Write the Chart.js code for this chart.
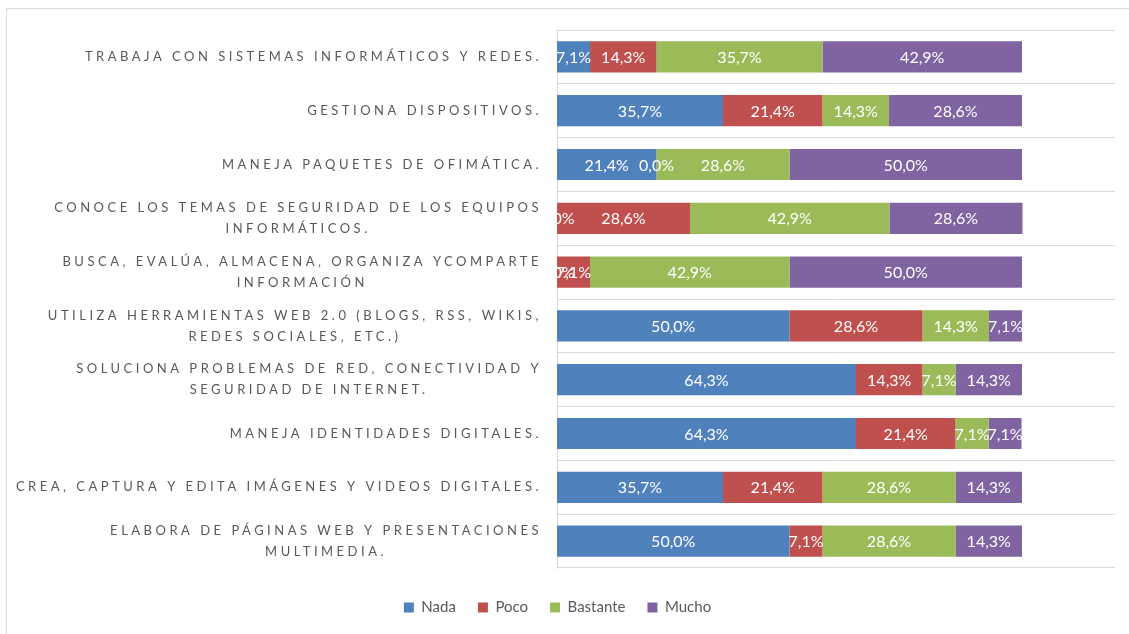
<!DOCTYPE html>
<html lang="es">
<head>
  <meta charset="UTF-8">
  <title>Competencias digitales</title>
  <style>
    body {
      margin: 0;
      background: #fff;
      font-family: Lato, 'Open Sans', Arial, sans-serif;
    }

    #wrap {
      position: relative;
      width: 1129px;
      height: 634px;
      overflow: hidden;
    }

    /* marco gris del gráfico */
    #frame {
      position: absolute;
      left: 6px;
      top: 8px;
      width: 1140px;
      height: 640px;
      border: 1px solid #d9d9d9;
      pointer-events: none;
    }
  </style>
</head>
<body>
  <div id="wrap">
    <canvas id="barChart" width="1129" height="634"></canvas>
    <div id="frame"></div>
  </div>

  <script src="https://cdn.jsdelivr.net/npm/chart.js"></script>
  <script>
    const categories = [
      ['TRABAJA CON SISTEMAS INFORMÁTICOS Y REDES.'],
      ['GESTIONA DISPOSITIVOS.'],
      ['MANEJA PAQUETES DE OFIMÁTICA.'],
      ['CONOCE LOS TEMAS DE SEGURIDAD DE LOS EQUIPOS', 'INFORMÁTICOS.'],
      ['BUSCA, EVALÚA, ALMACENA, ORGANIZA YCOMPARTE', 'INFORMACIÓN'],
      ['UTILIZA HERRAMIENTAS WEB 2.0 (BLOGS, RSS, WIKIS,', 'REDES SOCIALES, ETC.)'],
      ['SOLUCIONA PROBLEMAS DE RED, CONECTIVIDAD Y', 'SEGURIDAD DE INTERNET.'],
      ['MANEJA IDENTIDADES DIGITALES.'],
      ['CREA, CAPTURA Y EDITA IMÁGENES Y VIDEOS DIGITALES.'],
      ['ELABORA DE PÁGINAS WEB Y PRESENTACIONES', 'MULTIMEDIA.']
    ];

    const nada     = [7.1, 35.7, 21.4, 0.0, 0.0, 50.0, 64.3, 64.3, 35.7, 50.0];
    const poco     = [14.3, 21.4, 0.0, 28.6, 7.1, 28.6, 14.3, 21.4, 21.4, 7.1];
    const bastante = [35.7, 14.3, 28.6, 42.9, 42.9, 14.3, 7.1, 7.1, 28.6, 28.6];
    const mucho    = [42.9, 28.6, 50.0, 28.6, 50.0, 7.1, 14.3, 7.1, 14.3, 14.3];

    const textGray = '#595959';
    const fontName = 'Lato, "Open Sans", Arial, sans-serif';

    // etiquetas de categoría con espaciado entre letras, como en Excel
    const categoryLabels = {
      id: 'categoryLabels',
      afterDraw(chart) {
        const ctx = chart.ctx;
        const yScale = chart.scales.y;
        const right = chart.chartArea.left - 15;
        ctx.save();
        ctx.font = '13px ' + fontName;
        ctx.fillStyle = textGray;
        ctx.textBaseline = 'middle';
        ctx.textAlign = 'center';
        ctx.letterSpacing = '3.5px';
        categories.forEach((lines, i) => {
          const yc = yScale.getPixelForValue(i);
          const widths = lines.map(l => ctx.measureText(l).width);
          const blockW = Math.max(...widths);
          const cx = right - blockW / 2;
          const lh = 21;
          const y0 = yc - (lines.length - 1) * lh / 2;
          lines.forEach((l, k) => ctx.fillText(l, cx, y0 + k * lh));
        });
        ctx.restore();
      }
    };

    // valores dentro de las barras, recortados al área del gráfico
    const valueLabels = {
      id: 'valueLabels',
      afterDatasetsDraw(chart) {
        const ctx = chart.ctx;
        const area = chart.chartArea;
        ctx.save();
        ctx.beginPath();
        ctx.rect(area.left, area.top, area.right - area.left, area.bottom - area.top);
        ctx.clip();
        ctx.font = '16px ' + fontName;
        ctx.fillStyle = '#ffffff';
        ctx.textAlign = 'center';
        ctx.textBaseline = 'middle';
        chart.data.datasets.forEach((ds, di) => {
          chart.getDatasetMeta(di).data.forEach((bar, i) => {
            const v = ds.data[i];
            const x = (bar.x + bar.base) / 2;
            ctx.fillText(v.toFixed(1).replace('.', ',') + '%', x, bar.y + 1);
          });
        });
        ctx.restore();
      }
    };

    new Chart(document.getElementById('barChart'), {
      type: 'bar',
      data: {
        labels: categories,
        datasets: [
          { label: 'Nada', data: nada, backgroundColor: '#4f81bd' },
          { label: 'Poco', data: poco, backgroundColor: '#c0504d' },
          { label: 'Bastante', data: bastante, backgroundColor: '#9bbb59' },
          { label: 'Mucho', data: mucho, backgroundColor: '#8064a2' }
        ]
      },
      options: {
        indexAxis: 'y',
        responsive: false,
        animation: false,
        categoryPercentage: 1,
        barPercentage: 0.58,
        layout: {
          padding: { left: 0, right: 14, top: 30, bottom: 9 }
        },
        plugins: {
          tooltip: { enabled: false },
          legend: {
            position: 'bottom',
            labels: {
              boxWidth: 10,
              boxHeight: 10,
              padding: 22,
              color: textGray,
              font: { family: fontName, size: 15 }
            }
          }
        },
        scales: {
          x: {
            stacked: true,
            min: 0,
            max: 120,
            ticks: { display: false },
            grid: { display: false },
            border: { display: false },
            afterFit: s => { s.height = 10; }
          },
          y: {
            stacked: true,
            ticks: { display: false },
            grid: {
              color: '#d9d9d9',
              drawTicks: false
            },
            border: { color: '#d9d9d9' },
            afterFit: s => { s.width = 557; }
          }
        }
      },
      plugins: [categoryLabels, valueLabels]
    });
  </script>
</body>
</html>
